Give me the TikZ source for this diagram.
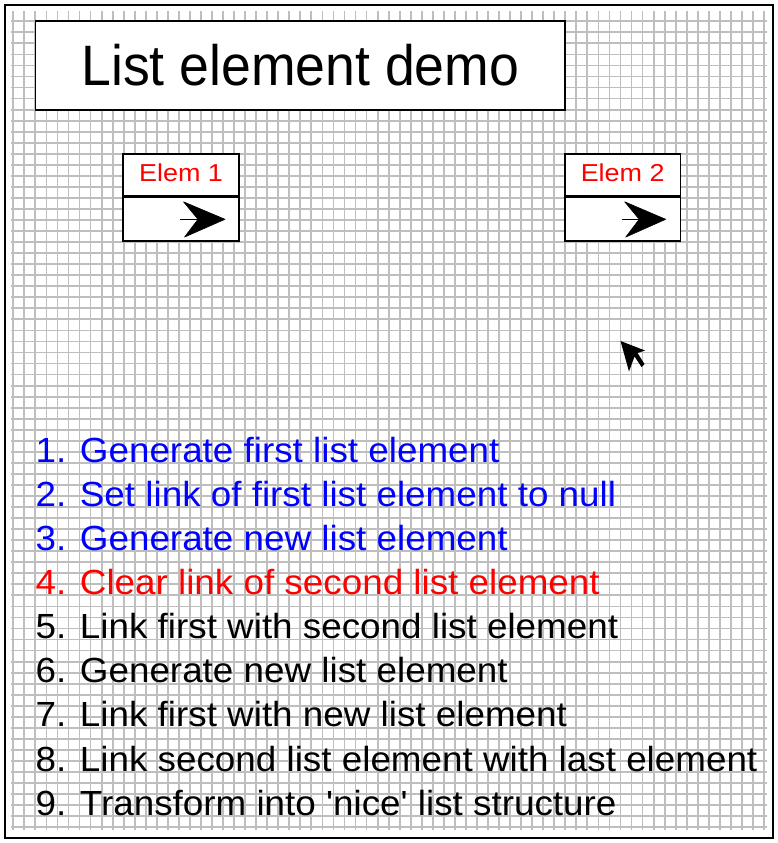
\documentclass[tikz,border=0pt]{standalone}
\usepackage{fontspec}
\setmainfont{Liberation Sans}
\newfontfamily\stepfont[FakeStretch=1.055]{Liberation Sans}
\newfontfamily\titlefont[FakeStretch=0.94]{Liberation Sans}
\newfontfamily\elemfont[FakeStretch=1.1]{Liberation Sans}
\definecolor{gridgray}{RGB}{190,190,190}
\definecolor{stepblue}{RGB}{0,0,255}
\definecolor{stepred}{RGB}{255,0,0}

\begin{document}
\begin{tikzpicture}[x=1pt,y=-1pt,
  gridline/.style={draw=gridgray,line width=1.8pt},
  boxpart/.style={draw=black,fill=white,line width=1.8pt,inner sep=0pt,
    minimum width=115.4pt},
  elemlabel/.style={anchor=base,inner sep=0pt,text=stepred,
    font=\elemfont\fontsize{24.5}{28}\selectfont},
  stepline/.style={anchor=base west,inner sep=0pt,
    font=\stepfont\fontsize{34.9}{40}\selectfont},
  linkhead/.style={fill=black,draw=black,line width=0.6pt,line join=round},
  linkstem/.style={draw=black,line width=1.6pt}]

\useasboundingbox (0,0) rectangle (778,843);
\fill[white] (0,0) rectangle (778,843);

% background grid
\foreach \k in {0,...,68}
  \draw[gridline] ({13.3+11.04*\k},11) -- ({13.3+11.04*\k},830);
\foreach \k in {0,...,73}
  \draw[gridline] (11,{21.3+11.04*\k}) -- (767,{21.3+11.04*\k});

% frame
\draw[line width=1.5pt] (5,5) rectangle (773,838);

% title
\node[draw=black,fill=white,line width=1.8pt,inner sep=0pt,
      minimum width=529.9pt,minimum height=88.3pt,
      font=\titlefont\fontsize{57}{64}\selectfont]
  (title) at (300.35,65.45) {List element demo};

% list element 1
\node[boxpart,minimum height=41.4pt] (e1top) at (181,175) {};
\node[boxpart,minimum height=43.6pt,anchor=north] (e1bot) at (e1top.south) {};
\node[elemlabel] (e1lab) at (181,181) {Elem 1};
\begin{scope}[shift={(e1bot.center)}]
  \draw[linkstem] (-1,0) -- (17,0);
  \filldraw[linkhead] (44,0) -- (2.5,-17.5) -- (17,0) -- (3.5,17.8) -- cycle;
\end{scope}

% list element 2
\node[boxpart,minimum height=41.4pt] (e2top) at (622.7,175) {};
\node[boxpart,minimum height=43.6pt,anchor=north] (e2bot) at (e2top.south) {};
\node[elemlabel] (e2lab) at (622.7,181) {Elem 2};
\begin{scope}[shift={(e2bot.center)}]
  \draw[linkstem] (-1,0) -- (17,0);
  \filldraw[linkhead] (43,0) -- (2,-17.5) -- (16.5,0) -- (3,17.8) -- cycle;
\end{scope}

% mouse pointer
\fill[black] (620.5,341) -- (645,350.5) -- (637.5,353) -- (644.5,364)
  -- (641.5,367) -- (634.5,356.5) -- (629,371.5) -- cycle;

% steps
\node[stepline,text=stepblue] (s1) at (35.4,462.3) {1. Generate first list element};
\node[stepline,text=stepblue] (s2) at (35.4,506.4) {2. Set link of first list element to null};
\node[stepline,text=stepblue] (s3) at (35.4,550.5) {3. Generate new list element};
\node[stepline,text=stepred]  (s4) at (35.4,594.6) {4. Clear link of second list element};
\node[stepline] (s5) at (35.4,638.7) {5. Link first with second list element};
\node[stepline] (s6) at (35.4,682.8) {6. Generate new list element};
\node[stepline] (s7) at (35.4,726.9) {7. Link first with new list element};
\node[stepline] (s8) at (35.4,771.0) {8. Link second list element with last element};
\node[stepline] (s9) at (35.4,815.1) {9. Transform into 'nice' list structure};
\end{tikzpicture}
\end{document}
